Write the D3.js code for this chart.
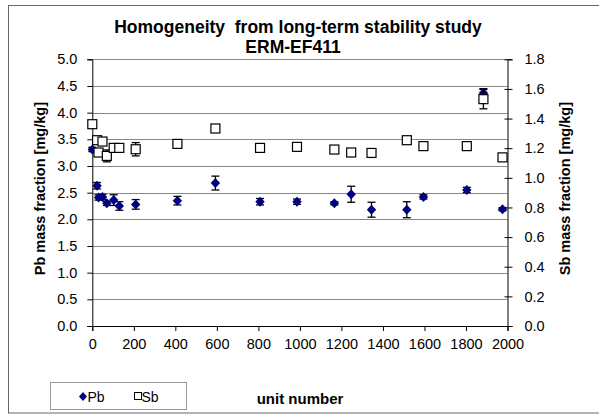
<!DOCTYPE html>
<html><head><meta charset="utf-8">
<script src="https://cdn.jsdelivr.net/npm/d3@7"></script>
<style>
body{margin:0;background:#fff;}
svg{display:block;font-family:Arial,"Liberation Sans",sans-serif;}
</style></head>
<body>
<svg id="c" width="599" height="415"></svg>
<script>
const units    = [0, 23, 30, 49, 70, 103, 130, 209, 410, 593, 808, 986, 1166, 1247, 1345, 1515, 1595, 1804, 1884, 1976];
const pbValues = [3.31, 2.63, 2.41, 2.42, 2.30, 2.36, 2.25, 2.28, 2.35, 2.68, 2.33, 2.33, 2.30, 2.47, 2.18, 2.18, 2.42, 2.55, 4.37, 2.19];
const pbErr    = [0.04, 0.06, 0.05, 0.05, 0.04, 0.10, 0.08, 0.09, 0.08, 0.13, 0.06, 0.05, 0.03, 0.15, 0.14, 0.15, 0.04, 0.05, 0.08, 0.03];
const sbValues = [1.362, 1.254, 1.171, 1.245, 1.148, 1.202, 1.202, 1.193, 1.229, 1.333, 1.202, 1.209, 1.191, 1.171, 1.168, 1.254, 1.214, 1.214, 1.531, 1.138];
const sbErr    = [0.02, 0.02, 0.02, 0.02, 0.04, 0.02, 0.02, 0.045, 0.02, 0.02, 0.02, 0.02, 0.02, 0.025, 0.02, 0.02, 0.025, 0.02, 0.065, 0.02];
const xTicks = [0,200,400,600,800,1000,1200,1400,1600,1800,2000];
const yLeftTicks = [0,0.5,1,1.5,2,2.5,3,3.5,4,4.5,5];
const yRightTicks = [0,0.2,0.4,0.6,0.8,1.0,1.2,1.4,1.6,1.8];

const svg = d3.select("#c");
const L = 92.3, R = 507.5, T = 59.3, B = 326;
const x = d3.scaleLinear().domain([0,2000]).range([L,R]);
const yl = d3.scaleLinear().domain([0,5]).range([B,T]);
const yr = d3.scaleLinear().domain([0,1.8]).range([B,T]);

// outer border
svg.append("rect").attr("x",8.5).attr("y",5.5).attr("width",595).attr("height",407.5)
  .attr("fill","none").attr("stroke","#666").attr("stroke-width",1);

// gridlines
svg.append("g").selectAll("line").data(yLeftTicks.slice(1)).join("line")
  .attr("x1",L).attr("x2",R).attr("y1",d=>Math.round(yl(d))+0.5).attr("y2",d=>Math.round(yl(d))+0.5)
  .attr("stroke","#888").attr("stroke-width",1);

// axes
const fmt1 = d3.format(".1f");
const gx = svg.append("g").attr("transform",`translate(0,${B})`)
  .call(d3.axisBottom(x).tickValues(xTicks).tickFormat(d3.format("d")).tickSize(5).tickPadding(8));
const gl = svg.append("g").attr("transform",`translate(${L},0)`)
  .call(d3.axisLeft(yl).tickValues(yLeftTicks).tickFormat(fmt1).tickSize(5).tickPadding(9));
const gr = svg.append("g").attr("transform",`translate(${R},0)`)
  .call(d3.axisRight(yr).tickValues(yRightTicks).tickFormat(fmt1).tickSize(5).tickPadding(8));
gr.selectAll(".tick line").attr("x1",-3);
[gx,gl,gr].forEach(g=>{
  g.select(".domain").attr("stroke","#000");
  g.selectAll(".tick line").attr("stroke","#000");
  g.selectAll(".tick text").attr("font-size",14.5).attr("fill","#000")
   .attr("font-family","Arial,'Liberation Sans',sans-serif");
});
gl.selectAll(".tick text").attr("dx",-1);
gr.selectAll(".tick text").attr("dx",4);

// error bars
function errBars(vals, errs, y){
  const g = svg.append("g").attr("stroke","#000").attr("stroke-width",1.3);
  units.forEach((u,i)=>{
    const cx = x(u), y1 = y(vals[i]-errs[i]), y2 = y(vals[i]+errs[i]);
    g.append("line").attr("x1",cx).attr("x2",cx).attr("y1",y1).attr("y2",y2);
    g.append("line").attr("x1",cx-4).attr("x2",cx+4).attr("y1",y1).attr("y2",y1);
    g.append("line").attr("x1",cx-4).attr("x2",cx+4).attr("y1",y2).attr("y2",y2);
  });
}
errBars(pbValues,pbErr,yl);
svg.append("g").selectAll("path").data(units).join("path")
  .attr("transform",(d,i)=>`translate(${x(d)},${yl(pbValues[i])})`)
  .attr("d","M0,-5L4.7,0L0,5L-4.7,0Z").attr("fill","#000080");
errBars(sbValues,sbErr,yr);
svg.append("g").selectAll("rect").data(units).join("rect")
  .attr("x",d=>x(d)-4.5).attr("y",(d,i)=>yr(sbValues[i])-4.5)
  .attr("width",9).attr("height",9).attr("fill","#fff").attr("stroke","#000").attr("stroke-width",1.2);

// titles
svg.append("text").attr("x",298).attr("y",33).attr("text-anchor","middle")
  .attr("font-size",17.5).attr("font-weight","bold").style("white-space","pre")
  .text("Homogeneity  from long-term stability study");
svg.append("text").attr("x",293).attr("y",53).attr("text-anchor","middle")
  .attr("font-size",17.5).attr("font-weight","bold").text("ERM-EF411");
svg.append("text").attr("transform",`translate(44.5,${(T+B)/2-4}) rotate(-90)`).attr("text-anchor","middle")
  .attr("font-size",14.5).attr("font-weight","bold").text("Pb mass fraction [mg/kg]");
svg.append("text").attr("transform",`translate(570,${(T+B)/2-4}) rotate(-90)`).attr("text-anchor","middle")
  .attr("font-size",14.5).attr("font-weight","bold").text("Sb mass fraction [mg/kg]");
svg.append("text").attr("x",300).attr("y",404).attr("text-anchor","middle")
  .attr("font-size",15).attr("font-weight","bold").text("unit number");

// legend
svg.append("rect").attr("x",50.5).attr("y",382.5).attr("width",136).attr("height",27)
  .attr("fill","#fff").attr("stroke","#999");
svg.append("path").attr("transform","translate(83,396.5)").attr("d","M0,-4.5L4,0L0,4.5L-4,0Z").attr("fill","#000080");
svg.append("text").attr("x",87.5).attr("y",401.5).attr("font-size",14).text("Pb");
svg.append("rect").attr("x",134.5).attr("y",392.5).attr("width",7).attr("height",7).attr("fill","#fff").attr("stroke","#000");
svg.append("text").attr("x",141.5).attr("y",401.5).attr("font-size",14).text("Sb");
</script>
</body></html>
